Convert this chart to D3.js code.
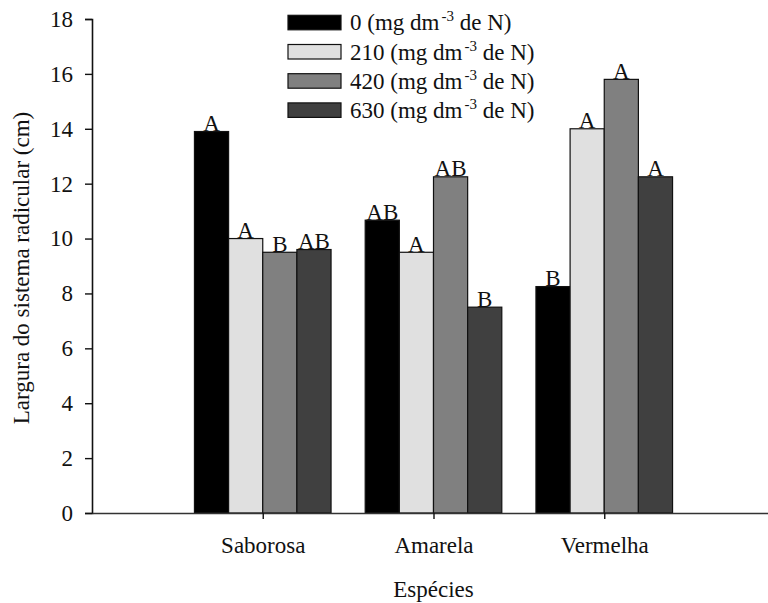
<!DOCTYPE html>
<html>
<head>
<meta charset="utf-8">
<script src="https://cdn.jsdelivr.net/npm/d3@7"></script>
<style>
  html, body { margin: 0; padding: 0; background: #fff; }
  svg { display: block; font-family: "Liberation Serif", "Times New Roman", serif; }
</style>
</head>
<body>
<svg id="chart" width="768" height="603"></svg>
<script>
// Root width (cm) by species and nitrogen dose
const species = ["Saborosa", "Amarela", "Vermelha"];
const doses = ["0", "210", "420", "630"];
const dose0   = [13.9, 10.67, 8.25];
const dose210 = [10.0, 9.5, 14.0];
const dose420 = [9.5, 12.25, 15.8];
const dose630 = [9.6, 7.5, 12.25];
const letters0   = ["A", "AB", "B"];
const letters210 = ["A", "A", "A"];
const letters420 = ["B", "AB", "A"];
const letters630 = ["AB", "B", "A"];
const yTicks = [0, 2, 4, 6, 8, 10, 12, 14, 16, 18];
const fills = ["#000000", "#e0e0e0", "#808080", "#404040"];

const seriesValues = [dose0, dose210, dose420, dose630];
const seriesLetters = [letters0, letters210, letters420, letters630];

const svg = d3.select("#chart");
const plotLeft = 92, plotRight = 775, plotTop = 19, plotBottom = 513;
const fontSize = 23;

const x = d3.scaleLinear().domain([0, 4]).range([plotLeft, plotRight]);
const y = d3.scaleLinear().domain([0, 18]).range([plotBottom, plotTop]);
const sub = d3.scaleBand().domain(d3.range(doses.length)).range([-0.4, 0.4]).padding(0);

function groupPos(i) { return i + 1; }

// one record per bar
const rows = [];
species.forEach((s, i) => {
  seriesValues.forEach((vals, j) => {
    rows.push({ i, j, v: vals[i], letter: seriesLetters[j][i] });
  });
});

const g = svg.append("g");
g.selectAll("rect.bar").data(rows).enter().append("rect")
  .attr("class", "bar")
  .attr("x", d => x(groupPos(d.i) + sub(d.j)))
  .attr("width", d => x(groupPos(d.i) + sub(d.j) + sub.bandwidth()) - x(groupPos(d.i) + sub(d.j)))
  .attr("y", d => y(d.v))
  .attr("height", d => y(0) - y(d.v))
  .attr("fill", d => fills[d.j])
  .attr("stroke", "#111")
  .attr("stroke-width", 1.2);

// significance letters
g.selectAll("text.lbl").data(rows).enter().append("text")
  .attr("class", "lbl")
  .attr("x", d => x(groupPos(d.i) + sub(d.j) + sub.bandwidth() / 2))
  .attr("y", d => y(d.v) - 0.5)
  .attr("text-anchor", "middle")
  .attr("font-size", fontSize)
  .attr("fill", "#111")
  .text(d => d.letter);

// y axis
const yAxis = svg.append("g")
  .attr("transform", `translate(${plotLeft},0)`)
  .call(d3.axisLeft(y).tickValues(yTicks).tickSize(7).tickPadding(12).tickFormat(d3.format("d")));
yAxis.attr("font-family", null);
yAxis.select(".domain").attr("stroke", "#111").attr("stroke-width", 1.6);
yAxis.selectAll(".tick line").attr("stroke", "#111").attr("stroke-width", 1.4);
yAxis.selectAll(".tick text").attr("font-size", fontSize).attr("fill", "#111");

// x axis
const xAxis = svg.append("g")
  .attr("transform", `translate(0,${plotBottom})`)
  .call(d3.axisBottom(x).tickValues([1, 2, 3]).tickSize(6).tickSizeOuter(0)
    .tickFormat(d => species[d - 1]));
xAxis.attr("font-family", null);
xAxis.select(".domain").attr("stroke", "#333").attr("stroke-width", 1.6);
xAxis.selectAll(".tick line").attr("stroke", "#111").attr("stroke-width", 1.4);
xAxis.selectAll(".tick text").attr("font-size", fontSize).attr("fill", "#111")
  .attr("y", 40).attr("dy", 0);

// axis titles
svg.append("text")
  .attr("x", (plotLeft + plotRight) / 2)
  .attr("y", 597)
  .attr("text-anchor", "middle")
  .attr("font-size", fontSize)
  .attr("fill", "#111")
  .text("Espécies");

svg.append("text")
  .attr("transform", `translate(29,${(plotTop + plotBottom) / 2 + 2}) rotate(-90)`)
  .attr("text-anchor", "middle")
  .attr("font-size", fontSize)
  .attr("fill", "#111")
  .text("Largura do sistema radicular (cm)");

// legend
const legend = svg.append("g");
const legendRows = legend.selectAll("g").data(doses).enter().append("g")
  .attr("transform", (d, k) => `translate(288,${15.3 + k * 29.2})`);
legendRows.append("rect")
  .attr("width", 53).attr("height", 14.5)
  .attr("fill", (d, k) => fills[k])
  .attr("stroke", "#111").attr("stroke-width", 1.2);
const lt = legendRows.append("text")
  .attr("x", 62).attr("y", 15)
  .attr("font-size", fontSize)
  .attr("fill", "#111");
lt.append("tspan").text(d => d + " (mg dm");
lt.append("tspan").attr("dx", 2).attr("dy", -9).attr("font-size", 15).text("-3");
lt.append("tspan").attr("dy", 9).text(" de N)");
</script>
</body>
</html>
